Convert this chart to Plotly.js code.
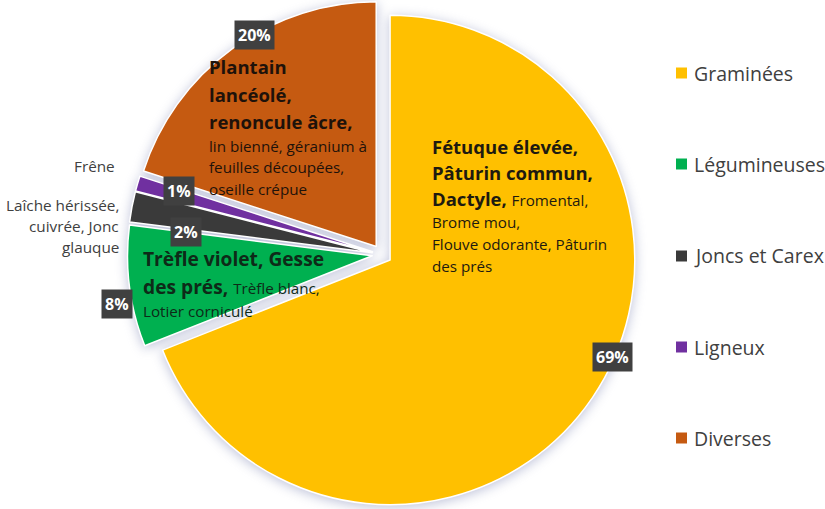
<!DOCTYPE html>
<html>
<head>
<meta charset="utf-8">
<script src="https://cdn.plot.ly/plotly-3.0.1.min.js"></script>
<style>
  html, body { margin: 0; padding: 0; background: #fff; }
  #chart { width: 825px; height: 509px; }
  .pielayer .trace { filter: drop-shadow(0px 2px 6px rgba(110,120,170,0.45)); }
</style>
</head>
<body>
<div id="chart"></div>
<script>
// ---- data ----
var categories = ["Graminées", "Légumineuses", "Joncs et Carex", "Ligneux", "Diverses"];
var shares = [69, 8, 2, 1, 20];
var colors = ["#FFC000", "#00B050", "#3A3A3A", "#7030A0", "#C55A11"];
var pulls = [0.04, 0.04, 0.04, 0.04, 0.04];

// descriptive text lines (html), per slice
var R = "<span style='font-size:15.2px'>";
var gramLines = ["<b>Fétuque élevée,</b>", "<b>Pâturin commun,</b>",
  "<b>Dactyle,</b> " + R + "Fromental,</span>",
  R + "Brome mou,</span>",
  R + "Flouve odorante, Pâturin</span>",
  R + "des prés</span>"];
var divLines = ["<b>Plantain</b>", "<b>lancéolé,</b>", "<b>renoncule âcre,</b>",
  R + "lin bienné, géranium à</span>",
  R + "feuilles découpées,</span>",
  R + "oseille crépue</span>"];
var legLines = ["<b>Trèfle violet, Gesse</b>",
  "<b>des prés,</b> " + R + "Trèfle blanc,</span>",
  R + "Lotier corniculé</span>"];
var ligneuxLines = ["Frêne"];
var joncsLines = ["Laîche hérissée,", "cuivrée, Jonc", "glauque"];

var W = 825, H = 509;
var FONT = "'Open Sans', Lato, sans-serif";
function px(x) { return x / W; }
function py(y) { return 1 - y / H; }

var annotations = [];
var shapes = [];

function addBlock(lines, x, ys, align, size, color) {
  lines.forEach(function (t, i) {
    annotations.push({
      xref: "paper", yref: "paper", x: px(x), y: py(ys[i]),
      xanchor: align, yanchor: "middle", showarrow: false,
      text: t, font: { family: FONT, size: size, color: color }
    });
  });
}

addBlock(gramLines, 430, [146, 172, 198, 222, 244, 266], "left", 18.5, "#1E1A10");
addBlock(divLines, 207, [67, 95, 122, 146, 167, 189], "left", 18.5, "#1E120A");
addBlock(legLines, 141, [258, 286, 311], "left", 19.2, "#0E2A18");
addBlock(ligneuxLines, 117, [166], "right", 15.3, "#404040");
addBlock(joncsLines, 121, [205, 226, 247], "right", 15.3, "#404040");

// percentage boxes
var pctPos = [[612, 357], [117, 304], [186, 232], [179, 191], [254, 35]];
shares.forEach(function (v, i) {
  annotations.push({
    xref: "paper", yref: "paper", x: px(pctPos[i][0]), y: py(pctPos[i][1]),
    xanchor: "center", yanchor: "middle", showarrow: false,
    text: "<b>" + v + "%</b>", bgcolor: "#404040", borderpad: 3,
    font: { family: FONT, size: 16, color: "#FFFFFF" }
  });
});

// legend (manual)
var legY = [73, 164, 256, 347, 438];
categories.forEach(function (c, i) {
  shapes.push({
    type: "rect", xref: "paper", yref: "paper",
    x0: px(676), x1: px(687), y0: py(legY[i] + 5.5), y1: py(legY[i] - 5.5),
    fillcolor: colors[i], line: { width: 0 }
  });
  annotations.push({
    xref: "paper", yref: "paper", x: px(692), y: py(legY[i]),
    xanchor: "left", yanchor: "middle", showarrow: false,
    text: c, font: { family: FONT, size: 19.5, color: "#404040" }
  });
});

var trace = {
  type: "pie",
  labels: categories,
  values: shares,
  sort: false,
  direction: "clockwise",
  rotation: 0,
  pull: pulls,
  textinfo: "none",
  hoverinfo: "label+percent",
  marker: { colors: colors, line: { color: "#FFFFFF", width: 1.5 } },
  domain: { x: [0.15, 0.776], y: [0, 1] },
  showlegend: false
};

var layout = {
  width: W, height: H,
  margin: { l: 0, r: 0, t: 0, b: 0 },
  paper_bgcolor: "#FFFFFF",
  showlegend: false,
  annotations: annotations,
  shapes: shapes
};

Plotly.newPlot("chart", [trace], layout, { displayModeBar: false, staticPlot: true });
</script>
</body>
</html>
